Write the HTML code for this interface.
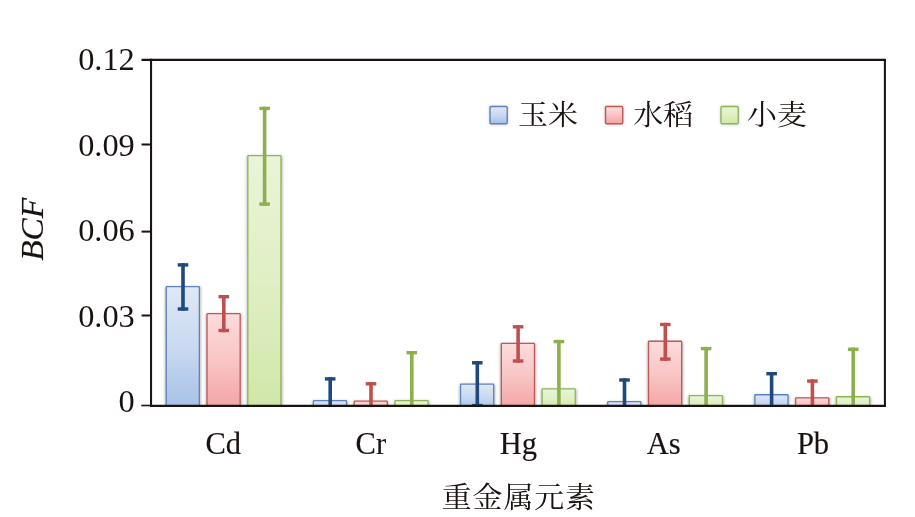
<!DOCTYPE html>
<html lang="zh"><head><meta charset="utf-8"><title>BCF</title>
<style>html,body{margin:0;padding:0;background:#fff}body{width:915px;height:517px;overflow:hidden}svg{display:block}</style></head>
<body>
<svg width="915" height="517" viewBox="0 0 915 517">
<defs>
<linearGradient id="g0" x1="0" y1="0" x2="0" y2="1"><stop offset="0" stop-color="#dfe8f6"/><stop offset="0.5" stop-color="#c9d9f0"/><stop offset="1" stop-color="#a5c0e8"/></linearGradient>
<linearGradient id="g1" x1="0" y1="0" x2="0" y2="1"><stop offset="0" stop-color="#fcdcdc"/><stop offset="0.5" stop-color="#f9c4c4"/><stop offset="1" stop-color="#f3a3a3"/></linearGradient>
<linearGradient id="g2" x1="0" y1="0" x2="0" y2="1"><stop offset="0" stop-color="#eaf4d8"/><stop offset="0.5" stop-color="#e0efc4"/><stop offset="1" stop-color="#d0e6a8"/></linearGradient>
<filter id="sh" x="-30%" y="-30%" width="160%" height="160%"><feGaussianBlur stdDeviation="1.8"/></filter>
<clipPath id="cp"><rect x="0" y="0" width="915" height="405.6"/></clipPath>
</defs>
<rect width="915" height="517" fill="#fff"/>
<g clip-path="url(#cp)">
<rect x="165.2" y="286.8" width="35.5" height="123.2" fill="#000" opacity="0.3" filter="url(#sh)"/>
<rect x="206.0" y="313.8" width="35.5" height="96.2" fill="#000" opacity="0.3" filter="url(#sh)"/>
<rect x="246.8" y="155.8" width="35.5" height="254.3" fill="#000" opacity="0.3" filter="url(#sh)"/>
<rect x="312.4" y="400.8" width="35.5" height="9.2" fill="#000" opacity="0.3" filter="url(#sh)"/>
<rect x="353.2" y="401.4" width="35.5" height="8.7" fill="#000" opacity="0.3" filter="url(#sh)"/>
<rect x="394.0" y="400.8" width="35.5" height="9.2" fill="#000" opacity="0.3" filter="url(#sh)"/>
<rect x="459.5" y="384.3" width="35.5" height="25.8" fill="#000" opacity="0.3" filter="url(#sh)"/>
<rect x="500.3" y="343.6" width="35.5" height="66.5" fill="#000" opacity="0.3" filter="url(#sh)"/>
<rect x="541.1" y="389.1" width="35.5" height="21.0" fill="#000" opacity="0.3" filter="url(#sh)"/>
<rect x="606.7" y="401.9" width="35.5" height="8.2" fill="#000" opacity="0.3" filter="url(#sh)"/>
<rect x="647.5" y="341.5" width="35.5" height="68.6" fill="#000" opacity="0.3" filter="url(#sh)"/>
<rect x="688.3" y="395.9" width="35.5" height="14.2" fill="#000" opacity="0.3" filter="url(#sh)"/>
<rect x="753.8" y="395.0" width="35.5" height="15.1" fill="#000" opacity="0.3" filter="url(#sh)"/>
<rect x="794.6" y="398.2" width="35.5" height="11.9" fill="#000" opacity="0.3" filter="url(#sh)"/>
<rect x="835.4" y="397.0" width="35.5" height="13.1" fill="#000" opacity="0.3" filter="url(#sh)"/>
<rect x="166.25" y="286.55" width="33.10" height="123.2" rx="0.6" fill="url(#g0)" stroke="#5f83bc" stroke-width="1.3"/>
<rect x="207.05" y="313.55" width="33.10" height="96.2" rx="0.6" fill="url(#g1)" stroke="#bf5959" stroke-width="1.3"/>
<rect x="247.85" y="155.55" width="33.10" height="254.3" rx="0.6" fill="url(#g2)" stroke="#90b557" stroke-width="1.3"/>
<rect x="313.41" y="400.55" width="33.10" height="9.2" rx="0.6" fill="url(#g0)" stroke="#5f83bc" stroke-width="1.3"/>
<rect x="354.21" y="401.15" width="33.10" height="8.7" rx="0.6" fill="url(#g1)" stroke="#bf5959" stroke-width="1.3"/>
<rect x="395.01" y="400.55" width="33.10" height="9.2" rx="0.6" fill="url(#g2)" stroke="#90b557" stroke-width="1.3"/>
<rect x="460.57" y="384.05" width="33.10" height="25.8" rx="0.6" fill="url(#g0)" stroke="#5f83bc" stroke-width="1.3"/>
<rect x="501.37" y="343.35" width="33.10" height="66.5" rx="0.6" fill="url(#g1)" stroke="#bf5959" stroke-width="1.3"/>
<rect x="542.17" y="388.85" width="33.10" height="21.0" rx="0.6" fill="url(#g2)" stroke="#90b557" stroke-width="1.3"/>
<rect x="607.73" y="401.65" width="33.10" height="8.2" rx="0.6" fill="url(#g0)" stroke="#5f83bc" stroke-width="1.3"/>
<rect x="648.53" y="341.25" width="33.10" height="68.6" rx="0.6" fill="url(#g1)" stroke="#bf5959" stroke-width="1.3"/>
<rect x="689.33" y="395.65" width="33.10" height="14.2" rx="0.6" fill="url(#g2)" stroke="#90b557" stroke-width="1.3"/>
<rect x="754.89" y="394.75" width="33.10" height="15.1" rx="0.6" fill="url(#g0)" stroke="#5f83bc" stroke-width="1.3"/>
<rect x="795.69" y="397.95" width="33.10" height="11.9" rx="0.6" fill="url(#g1)" stroke="#bf5959" stroke-width="1.3"/>
<rect x="836.49" y="396.75" width="33.10" height="13.1" rx="0.6" fill="url(#g2)" stroke="#90b557" stroke-width="1.3"/>
<g fill="#1f497d"><rect x="181.2" y="263.2" width="3.6" height="47.5"/><rect x="177.7" y="263.2" width="10.6" height="3.4"/><rect x="177.7" y="307.3" width="10.6" height="3.4"/></g>
<g fill="#c0504d"><rect x="222.0" y="295.0" width="3.6" height="37.2"/><rect x="218.5" y="295.0" width="10.6" height="3.4"/><rect x="218.5" y="328.8" width="10.6" height="3.4"/></g>
<g fill="#8db04f"><rect x="262.8" y="106.7" width="3.6" height="99.1"/><rect x="259.3" y="106.7" width="10.6" height="3.4"/><rect x="259.3" y="202.4" width="10.6" height="3.4"/></g>
<g fill="#1f497d"><rect x="328.4" y="377.2" width="3.6" height="31.7"/><rect x="324.9" y="377.2" width="10.6" height="3.4"/></g>
<g fill="#c0504d"><rect x="369.2" y="382.1" width="3.6" height="26.8"/><rect x="365.7" y="382.1" width="10.6" height="3.4"/></g>
<g fill="#8db04f"><rect x="410.0" y="351.0" width="3.6" height="57.9"/><rect x="406.5" y="351.0" width="10.6" height="3.4"/></g>
<g fill="#1f497d"><rect x="475.5" y="361.1" width="3.6" height="46.2"/><rect x="472.0" y="361.1" width="10.6" height="3.4"/><rect x="472.0" y="403.9" width="10.6" height="3.4"/></g>
<g fill="#c0504d"><rect x="516.3" y="325.1" width="3.6" height="37.6"/><rect x="512.8" y="325.1" width="10.6" height="3.4"/><rect x="512.8" y="359.3" width="10.6" height="3.4"/></g>
<g fill="#8db04f"><rect x="557.1" y="339.9" width="3.6" height="69.0"/><rect x="553.6" y="339.9" width="10.6" height="3.4"/></g>
<g fill="#1f497d"><rect x="622.7" y="378.3" width="3.6" height="30.6"/><rect x="619.2" y="378.3" width="10.6" height="3.4"/></g>
<g fill="#c0504d"><rect x="663.5" y="322.8" width="3.6" height="38.0"/><rect x="660.0" y="322.8" width="10.6" height="3.4"/><rect x="660.0" y="357.4" width="10.6" height="3.4"/></g>
<g fill="#8db04f"><rect x="704.3" y="346.9" width="3.6" height="62.0"/><rect x="700.8" y="346.9" width="10.6" height="3.4"/></g>
<g fill="#1f497d"><rect x="769.8" y="372.0" width="3.6" height="36.9"/><rect x="766.3" y="372.0" width="10.6" height="3.4"/></g>
<g fill="#c0504d"><rect x="810.6" y="379.4" width="3.6" height="29.5"/><rect x="807.1" y="379.4" width="10.6" height="3.4"/></g>
<g fill="#8db04f"><rect x="851.4" y="347.6" width="3.6" height="61.2"/><rect x="847.9" y="347.6" width="10.6" height="3.4"/></g>
</g>
<g stroke="#1a1211" stroke-width="2.05" fill="none">
<path d="M151.05 58.85V406.85"/>
<path d="M141.55 59.85H885.9"/>
<path d="M884.9 59.85V406.85"/>
<path d="M150.05 405.85H885.9"/>
<path d="M141.25 405.5H151.05" stroke-width="1.6"/>
<path d="M141.55 144.5H151.05" stroke-width="2"/>
<path d="M141.55 231.6H151.05" stroke-width="2"/>
<path d="M141.55 315.5H151.05" stroke-width="2"/>
</g>
<g font-family="'Liberation Serif', serif" font-size="31" fill="#1a1211" stroke="#1a1211" stroke-width="0.15">
<text transform="translate(134.8,69.8) scale(1.045,1)" text-anchor="end" stroke="none">0.12</text>
<text transform="translate(134.8,155.6) scale(1.045,1)" text-anchor="end" stroke="none">0.09</text>
<text transform="translate(134.8,240.7) scale(1.045,1)" text-anchor="end" stroke="none">0.06</text>
<text transform="translate(134.8,326.6) scale(1.045,1)" text-anchor="end" stroke="none">0.03</text>
<text transform="translate(134.8,412.0) scale(1.045,1)" text-anchor="end" stroke="none">0</text>
<text x="223.3" y="454.3" text-anchor="middle" font-size="30.5">Cd</text>
<text x="370.8" y="454.3" text-anchor="middle" font-size="30.5">Cr</text>
<text x="518.3" y="454.3" text-anchor="middle" font-size="30.5">Hg</text>
<text x="663.7" y="454.3" text-anchor="middle" font-size="30.5">As</text>
<text x="813.0" y="454.3" text-anchor="middle" font-size="30.5">Pb</text>
<text transform="translate(42.5,229.3) rotate(-90) scale(1.075,1)" text-anchor="middle" font-style="italic">BCF</text>
</g>
<g font-family="'Liberation Serif', 'Noto Serif CJK SC', serif" font-size="30" fill="#1a1211">
<text transform="translate(441.8,508.2) scale(1,0.97)" letter-spacing="0.8">重金属元素</text>
<rect x="489.5" y="106.2" width="18.4" height="18.4" fill="#000" opacity="0.22" filter="url(#sh)"/>
<rect x="490.0" y="106.5" width="17.2" height="17.2" rx="1.2" fill="url(#g0)" stroke="#5f83bc" stroke-width="1.4"/>
<text transform="translate(548,125) scale(1,0.95)" text-anchor="middle">玉米</text>
<rect x="605.0" y="106.2" width="18.4" height="18.4" fill="#000" opacity="0.22" filter="url(#sh)"/>
<rect x="605.5" y="106.5" width="17.2" height="17.2" rx="1.2" fill="url(#g1)" stroke="#bf5959" stroke-width="1.4"/>
<text transform="translate(663.3,125) scale(1,0.95)" text-anchor="middle">水稻</text>
<rect x="720.5" y="106.2" width="18.4" height="18.4" fill="#000" opacity="0.22" filter="url(#sh)"/>
<rect x="721.0" y="106.5" width="17.2" height="17.2" rx="1.2" fill="url(#g2)" stroke="#90b557" stroke-width="1.4"/>
<text transform="translate(777,125) scale(1,0.95)" text-anchor="middle">小麦</text>
</g>
</svg>
</body></html>
